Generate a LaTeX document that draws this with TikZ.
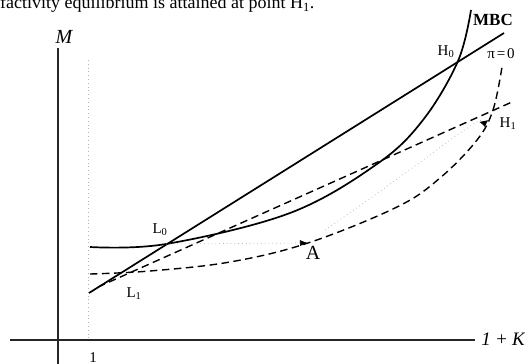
\documentclass[tikz,border=0pt]{standalone}
\usepackage{fontspec}
\setmainfont{Liberation Serif}
\usetikzlibrary{arrows.meta}
\begin{document}
\begin{tikzpicture}[x=1pt,y=-1pt,
  curve/.style={line width=1.7pt},
  dcurve/.style={line width=1.4pt, dash pattern=on 7.5pt off 4.5pt},
  axis/.style={line width=1.1pt, black!85},
  guide/.style={gray!60, line width=0.7pt, dash pattern=on 0.8pt off 3pt},
  lab/.style={inner sep=0pt, anchor=base, font=\fontsize{15}{15}\selectfont},
  big/.style={inner sep=0pt, anchor=base, font=\fontsize{20}{20}\selectfont\itshape}]
\useasboundingbox (0,0) rectangle (525,364);
\clip (0,0) rectangle (525,364);
% caption fragment at the top (cut off as in the original)
\node[inner sep=0pt, anchor=base west, font=\fontsize{18}{18}\selectfont] (cap) at (0,9)
  {factivity equilibrium is attained at point H\textsubscript{1}.};
% axes
\coordinate (ytop) at (58,48);
\coordinate (ybot) at (58,364);
\coordinate (xl) at (10,340);
\coordinate (xr) at (475,340);
\draw[axis] (ytop) -- (ybot);
\draw[axis] (xl) -- (xr);
\coordinate (gtop) at (88,60);
\coordinate (gbot) at (88,340);
\draw[guide] (gtop) -- (gbot);
\node[big] (M) at (64,43) {M};
\node[big, font=\fontsize{19}{19}\selectfont\itshape] (K) at (503,345) {1\hspace{0.22em}+\hspace{0.22em}K};
\node[lab] (one) at (93,362) {1};
% key points
\coordinate (L0) at (166,244);
\coordinate (L1) at (118,274);
\coordinate (H0) at (458,61);
\coordinate (H1) at (493,110);
\coordinate (A) at (308,243);
% straight lines
\coordinate (s0) at (89,293);
\coordinate (s1) at (504,33);
\draw[curve] (s0) -- (s1);
\coordinate (d0) at (98,287);
\coordinate (d1) at (512,102);
\draw[dcurve] (d0) -- (d1);
% MBC curve
\draw[curve] plot[smooth, tension=0.6] coordinates
  {(90,247) (L0) (290,213) (377,164) (423,120) (H0) (471,10)};
% shifted dashed curve
\draw[dcurve] plot[smooth, tension=0.6] coordinates
  {(90,274) (150,271) (230,262) (A) (397,207) (440,178) (477,140) (H1) (502,67)};
% movement arrows
\draw[guide, -{Latex[length=8pt,width=6pt,color=black]}] (L0) -- (A);
\coordinate (Astart) at (325,230);
\coordinate (H1tip) at (485,127);
\draw[guide, -{Latex[length=6pt,width=9pt,color=black]}] (Astart) .. controls (430,158) and (482,112) .. (H1tip);
% labels
\node[lab] (L0lab) at (160,233) {L\textsubscript{0}};
\node[lab] (L1lab) at (134,297) {L\textsubscript{1}};
\node[lab] (H0lab) at (446,55) {H\textsubscript{0}};
\node[lab] (H1lab) at (508,127) {H\textsubscript{1}};
\node[lab, font=\fontsize{17}{17}\selectfont\bfseries] (MBC) at (493,25) {MBC};
\node[lab] (pi) at (501,58) {π\hspace{0.12em}=\hspace{0.12em}0};
\node[big, font=\fontsize{20}{20}\selectfont] (Alab) at (313,259) {A};
\end{tikzpicture}
\end{document}
